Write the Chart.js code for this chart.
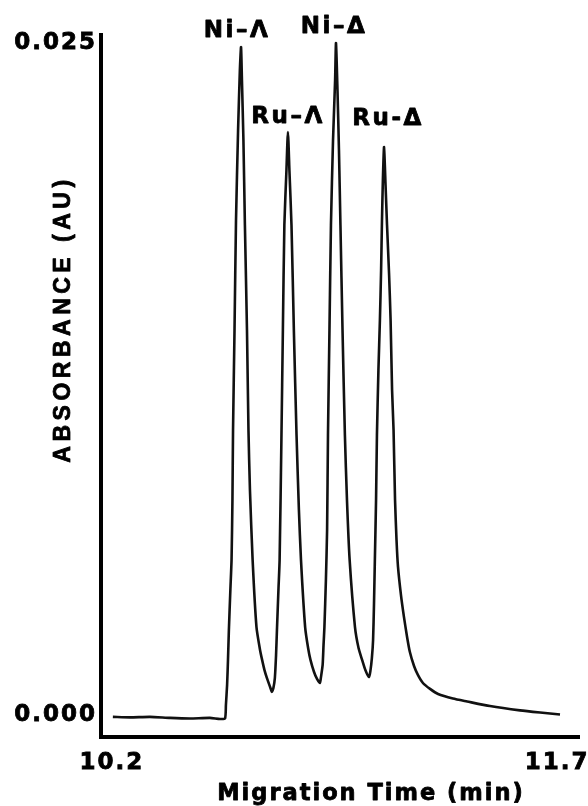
<!DOCTYPE html>
<html>
<head>
<meta charset="utf-8">
<script src="https://cdn.jsdelivr.net/npm/chart.js@4.4.0/dist/chart.umd.min.js"></script>
<style>
  html, body { margin: 0; padding: 0; background: #fff; }
  #wrap { width: 588px; height: 806px; }
</style>
</head>
<body>
<div id="wrap"><canvas id="chart" width="588" height="806"></canvas></div>
<script>
// electropherogram trace (min, AU)
const times = [
  // baseline
  10.203, 10.261, 10.328, 10.396, 10.463, 10.530, 10.564, 10.581,
  // Ni-Lambda
  10.584, 10.588, 10.591, 10.594, 10.599, 10.603, 10.606, 10.608, 10.613, 10.618, 10.625, 10.631, 10.635,
  10.638, 10.643, 10.648, 10.655, 10.660, 10.665, 10.674, 10.687, 10.699, 10.706, 10.714, 10.722, 10.733, 10.739,
  // Ru-Lambda
  10.744, 10.749, 10.753, 10.756, 10.761, 10.765, 10.771, 10.776, 10.781, 10.788, 10.793,
  10.798, 10.805, 10.813, 10.822, 10.830, 10.837, 10.851, 10.861, 10.869, 10.881, 10.891, 10.901,
  // Ni-Delta
  10.904, 10.910, 10.913, 10.916, 10.921, 10.925, 10.928, 10.933, 10.938, 10.945, 10.952, 10.955,
  10.960, 10.965, 10.970, 10.977, 10.985, 10.992, 11.001, 11.019, 11.031, 11.043, 11.054, 11.066,
  // Ru-Delta and tail
  11.071, 11.076, 11.080, 11.083, 11.086, 11.090, 11.093, 11.098, 11.103, 11.107, 11.110, 11.113, 11.117,
  11.122, 11.127, 11.134, 11.139, 11.144, 11.149, 11.154, 11.159, 11.164, 11.174, 11.184, 11.194,
  11.204, 11.218, 11.231, 11.248, 11.272, 11.299, 11.349, 11.397, 11.474, 11.575, 11.643, 11.710
];
const absorbance = [
  -0.00007, -0.00009, -0.00007, -0.00011, -0.00013, -0.00011, -0.00015, -0.00013,
  0.00037, 0.00112, 0.00205, 0.00316, 0.00465, 0.00577, 0.00800, 0.01060, 0.01432, 0.01841, 0.02176, 0.02399, 0.02485,
  0.02362, 0.02139, 0.01823, 0.01432, 0.01060, 0.00837, 0.00577, 0.00327, 0.00242, 0.00205, 0.00167, 0.00138, 0.00104, 0.00086,
  0.00100, 0.00138, 0.00223, 0.00316, 0.00465, 0.00577, 0.01023, 0.01432, 0.01823, 0.02027, 0.02169,
  0.02027, 0.01823, 0.01432, 0.01042, 0.00763, 0.00577, 0.00327, 0.00249, 0.00205, 0.00160, 0.00134, 0.00119,
  0.00138, 0.00186, 0.00260, 0.00327, 0.00502, 0.00688, 0.01042, 0.01432, 0.01823, 0.02139, 0.02362, 0.02500,
  0.02325, 0.02102, 0.01823, 0.01432, 0.01042, 0.00800, 0.00577, 0.00327, 0.00249, 0.00205, 0.00167, 0.00141,
  0.00164, 0.00212, 0.00279, 0.00409, 0.00577, 0.00800, 0.01042, 0.01283, 0.01469, 0.01655, 0.01841, 0.01990, 0.02113,
  0.01972, 0.01823, 0.01637, 0.01469, 0.01209, 0.01060, 0.00800, 0.00651, 0.00551, 0.00446, 0.00365, 0.00294,
  0.00234, 0.00182, 0.00149, 0.00119, 0.00097, 0.00078, 0.00061, 0.00050, 0.00033, 0.00017, 0.00009, 0.00002
];

// peak annotations (anchored at time / absorbance of the label baseline)
const peakNames = ['Ni\u2013\u039B', 'Ru\u2013\u039B', 'Ni\u2013\u0394', 'Ru-\u0394'];
const peakLabelTimes = [10.618, 10.790, 10.945, 11.127];
const peakLabelLevels = [0.02522, 0.02202, 0.02537, 0.02195];

const xTicks = [10.2, 11.7];
const yTicks = [0, 0.025];

const xTitle = 'Migration Time (min)';
const yTitle = 'ABSORBANCE (AU)';

// heavy photocopy-like lettering: fill plus a thin stroke
function heavyText(ctx, text, x, y, stroke) {
    ctx.lineWidth = stroke;
    ctx.strokeStyle = '#000';
    ctx.lineJoin = 'round';
    ctx.strokeText(text, x, y);
    ctx.fillText(text, x, y);
}

const textPlugin = {
    id: 'textPlugin',
    beforeDraw(chart) {
        chart.ctx.letterSpacing = '2px';
    },
    afterDraw(chart) {
        const ctx = chart.ctx;
        const xs = chart.scales.x;
        const ys = chart.scales.y;
        ctx.save();
        ctx.fillStyle = '#000';

        // peak labels
        ctx.font = 'bold 23px "DejaVu Sans"';
        ctx.letterSpacing = '2.5px';
        ctx.textAlign = 'center';
        ctx.textBaseline = 'alphabetic';
        peakNames.forEach((name, i) => {
            heavyText(ctx, name, xs.getPixelForValue(peakLabelTimes[i]) + 1, ys.getPixelForValue(peakLabelLevels[i]), 0.8);
        });

        // x axis title
        ctx.font = 'bold 22.5px "DejaVu Sans"';
        ctx.letterSpacing = '2px';
        heavyText(ctx, xTitle, 371, 800, 0.8);

        // y axis title
        ctx.translate(64, 319);
        ctx.rotate(-Math.PI / 2);
        ctx.font = 'bold 23px "Liberation Sans"';
        ctx.letterSpacing = '4.5px';
        ctx.textBaseline = 'middle';
        heavyText(ctx, yTitle, 0, 0, 0.8);
        ctx.restore();
        ctx.letterSpacing = '0px';
    }
};

const noPad = s => { s.paddingLeft = 0; s.paddingRight = 0; s.paddingTop = 0; s.paddingBottom = 0; };

const chart = new Chart(document.getElementById('chart'), {
    type: 'line',
    data: {
        datasets: [{
            data: times.map((t, i) => ({ x: t, y: absorbance[i] })),
            borderColor: '#111',
            borderWidth: 2.6,
            borderJoinStyle: 'round',
            pointRadius: 0,
            tension: 0.2,
            fill: false
        }]
    },
    options: {
        responsive: false,
        animation: false,
        events: [],
        layout: { padding: { left: 0, top: 35, right: 9, bottom: 0 } },
        plugins: {
            legend: { display: false },
            tooltip: { enabled: false }
        },
        scales: {
            x: {
                type: 'linear',
                min: 10.163,
                max: 11.774,
                grid: { display: false, drawTicks: false },
                border: { display: true, color: '#000', width: 4 },
                afterBuildTicks: s => { s.ticks = xTicks.map(v => ({ value: v })); },
                afterFit: s => { s.height = 69; noPad(s); },
                ticks: {
                    color: '#000',
                    padding: 12,
                    maxRotation: 0,
                    textStrokeColor: '#000',
                    textStrokeWidth: 0.8,
                    font: { family: 'DejaVu Sans', weight: 'bold', size: 23 },
                    callback: v => v.toFixed(1)
                }
            },
            y: {
                min: -0.00082,
                max: 0.0253,
                grid: { display: false, drawTicks: false },
                border: { display: true, color: '#000', width: 4 },
                afterBuildTicks: s => { s.ticks = yTicks.map(v => ({ value: v })); },
                afterFit: s => { s.width = 101; noPad(s); },
                ticks: {
                    color: '#000',
                    padding: 4,
                    textStrokeColor: '#000',
                    textStrokeWidth: 0.8,
                    font: { family: 'DejaVu Sans', weight: 'bold', size: 23 },
                    callback: v => v.toFixed(3)
                }
            }
        }
    },
    plugins: [textPlugin]
});
</script>
</body>
</html>
